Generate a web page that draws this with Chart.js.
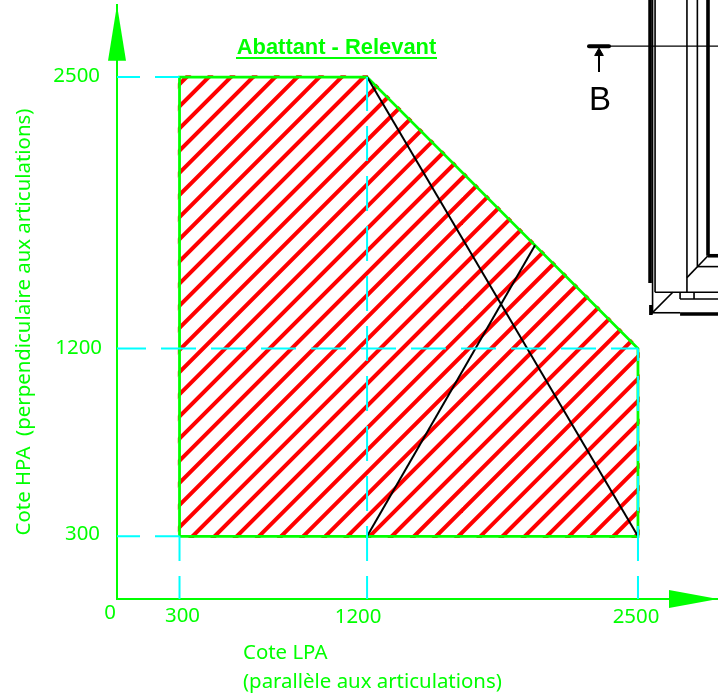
<!DOCTYPE html>
<html>
<head>
<meta charset="utf-8">
<title>Abattant - Relevant</title>
<script src="https://cdn.jsdelivr.net/npm/chart.js@4"></script>
<style>
  html, body { margin: 0; padding: 0; background: #fff; overflow: hidden; }
  canvas { display: block; }
</style>
</head>
<body>
<canvas id="chart" width="718" height="696"></canvas>
<script>
const chartTitle = "Abattant - Relevant";
const xAxisTitle = ["Cote LPA", "(parallèle aux articulations)"];
const yAxisTitle = "Cote HPA  (perpendiculaire aux articulations)";
const xTicks = [0, 300, 1200, 2500];
const yTicks = [300, 1200, 2500];

// zone limits, LPA / HPA
const zoneTopLpa = [300, 1200, 2500];
const zoneTopHpa = [2500, 2500, 1200];
const zoneBottomLpa = [300, 2500];
const zoneBottomHpa = [300, 300];

// black lines inside the zone
const diagonalDown = [[1200, 2500], [2500, 300]];
const diagonalUp = [[1200, 300], [2006, 1694]];

// section mark and window corner, cut off by the page, in the same units
const sectionLine = [[2361, 2648], [2884, 2648]];
const sectionBar = [[2265, 2648], [2361, 2648]];
const sectionStem = [[2313, 2524], [2313, 2620]];
const sectionHead = [[2313, 2615]];
const thinWindowLines = [
  [[2570, 2869], [2570, 1375]],
  [[2582, 2869], [2582, 1469]],
  [[2735, 2869], [2735, 1469]],
  [[2785, 2869], [2785, 1592]],
  [[2582, 1469], [2884, 1469]],
  [[2785, 1592], [2884, 1592]],
  [[2735, 1539], [2836, 1644]],
  [[2702, 1469], [2702, 1437]],
  [[2769, 1469], [2769, 1437]],
  [[2702, 1437], [2884, 1437]],
  [[2558, 1371], [2702, 1371]],
  [[2566, 1368], [2667, 1469]],
];
const thickWindowLines = [
  [[2558, 2869], [2558, 1513]],
  [[2836, 2869], [2836, 1644]],
  [[2836, 1644], [2884, 1644]],
  [[2702, 1365], [2884, 1365]],
  [[2562, 1408], [2562, 1360]],
];

const GREEN = "#00ff00";
const CYAN = "#00ffff";
const font = '"Liberation Sans", Arial, sans-serif';
const labelFont = '"Noto Sans", sans-serif';

function toPoints(xs, ys) {
  return xs.map((x, i) => ({ x: x, y: ys[i] }));
}

function pairs(list) {
  return list.map((p) => ({ x: p[0], y: p[1] }));
}

function line(data, color, width, extra) {
  return Object.assign(
    {
      data: data,
      showLine: true,
      borderColor: color,
      borderWidth: width,
      pointRadius: 0,
      fill: false,
      clip: false,
    },
    extra
  );
}

// 45 degree hatch used by the zone, 20 strokes per tile so it repeats cleanly
function makeHatch() {
  const size = 443;
  const step = size / 20;
  const tile = document.createElement("canvas");
  tile.width = size;
  tile.height = size;
  const c = tile.getContext("2d");
  c.strokeStyle = "#ff0000";
  c.lineWidth = 4;
  for (let k = 0; k <= 40; k++) {
    c.beginPath();
    c.moveTo(k * step + 10, -10);
    c.lineTo(k * step - size - 10, size + 10);
    c.stroke();
  }
  const pattern = document.createElement("canvas").getContext("2d").createPattern(tile, "repeat");
  pattern.setTransform(new DOMMatrix().translate(20, 0));
  return pattern;
}

const hatch = makeHatch();

const zoneOutline = toPoints(zoneBottomLpa.slice(0, 1).concat(zoneTopLpa, zoneBottomLpa.slice(1), zoneBottomLpa.slice(0, 1)),
  zoneBottomHpa.slice(0, 1).concat(zoneTopHpa, zoneBottomHpa.slice(1), zoneBottomHpa.slice(0, 1)));

const datasets = [
  // dashed reference lines, measured from the axes
  line(pairs([[0, yTicks[2]], [xTicks[1], yTicks[2]]]), CYAN, 2, { borderDash: [35, 15], borderDashOffset: 12 }),
  line(pairs([[0, yTicks[1]], [xTicks[3], yTicks[1]]]), CYAN, 2, { borderDash: [35, 15], borderDashOffset: 6 }),
  line(pairs([[0, yTicks[0]], [xTicks[1], yTicks[0]]]), CYAN, 2, { borderDash: [35, 15], borderDashOffset: 12 }),
  line(pairs([[xTicks[1], 0], [xTicks[1], yTicks[0]]]), CYAN, 2, { borderDash: [35, 15], borderDashOffset: 12 }),
  line(pairs([[xTicks[2], 0], [xTicks[2], yTicks[2]]]), CYAN, 2, { borderDash: [35, 15], borderDashOffset: 12 }),
  line(pairs([[xTicks[3], 0], [xTicks[3], yTicks[1]]]), CYAN, 2, { borderDash: [35, 15], borderDashOffset: 12 }),

  line(pairs(diagonalDown), "#000", 2),
  line(pairs(diagonalUp), "#000", 2),

  line(pairs(sectionLine), "#000", 1.2),
  line(pairs(sectionBar), "#000", 4, { borderCapStyle: "round" }),
  line(pairs(sectionStem), "#000", 2),
  {
    data: pairs(sectionHead),
    pointStyle: "triangle",
    pointRadius: 5,
    backgroundColor: "#000",
    borderColor: "#000",
    showLine: false,
    clip: false,
  },
  ...thinWindowLines.map((l) => line(pairs(l), "#000", 1.6)),
  ...thickWindowLines.map((l) => line(pairs(l), "#000", 3.6)),

  line(zoneOutline, GREEN, 2.8),
  // hatch ends poke out of the green outline
  line(zoneOutline, hatch, 3.4),
  {
    data: toPoints(zoneTopLpa, zoneTopHpa),
    showLine: true,
    borderWidth: 0,
    pointRadius: 0,
    backgroundColor: hatch,
    fill: "+1",
  },
  {
    data: toPoints(zoneBottomLpa, zoneBottomHpa),
    showLine: true,
    borderWidth: 0,
    pointRadius: 0,
    fill: false,
  },
];

const labelsPlugin = {
  id: "drawingText",
  afterDraw(chart) {
    const ctx = chart.ctx;
    const sx = chart.scales.x;
    const sy = chart.scales.y;
    ctx.save();
    ctx.fillStyle = GREEN;
    ctx.textBaseline = "middle";

    // arrow heads on the axes
    ctx.beginPath();
    ctx.moveTo(sx.left, chart.chartArea.top);
    ctx.lineTo(sx.left + 9, sy.getPixelForValue(2578));
    ctx.lineTo(sx.left - 9, sy.getPixelForValue(2578));
    ctx.closePath();
    ctx.fill();
    ctx.beginPath();
    ctx.moveTo(sx.right, sy.bottom);
    ctx.lineTo(sx.getPixelForValue(2649), sy.bottom - 9);
    ctx.lineTo(sx.getPixelForValue(2649), sy.bottom + 9);
    ctx.closePath();
    ctx.fill();

    // ticks
    ctx.font = "20.4px " + labelFont;
    ctx.textAlign = "center";
    const xNudge = [-7, 3, -9, -2];
    const xDrop = [14, 17, 18, 18];
    xTicks.forEach((t, i) => {
      ctx.fillText(String(t), sx.getPixelForValue(t) + xNudge[i], sy.bottom + xDrop[i]);
    });
    ctx.textAlign = "right";
    const yRight = [100, 102, 100];
    const yLift = [2, 0, 1];
    yTicks.forEach((t, i) => {
      ctx.fillText(String(t), yRight[i], sy.getPixelForValue(t) - yLift[i]);
    });

    // axis titles
    ctx.textAlign = "left";
    ctx.fillText(xAxisTitle[0], 243, 653);
    ctx.fillText(xAxisTitle[1], 243, 682);
    ctx.save();
    ctx.translate(24, 322);
    ctx.rotate(-Math.PI / 2);
    ctx.textAlign = "center";
    ctx.fillText(yAxisTitle, 0, 0);
    ctx.restore();

    // title
    ctx.font = "bold 21.9px " + font;
    ctx.textAlign = "center";
    ctx.fillText(chartTitle, 336.5, 48);
    ctx.fillRect(236, 57, 201, 2);

    ctx.fillStyle = "#000";
    ctx.font = "33px " + font;
    ctx.fillText("B", 600, 101);
    ctx.restore();
  },
};

new Chart(document.getElementById("chart"), {
  type: "scatter",
  data: { datasets: datasets },
  plugins: [labelsPlugin],
  options: {
    responsive: false,
    animation: false,
    events: [],
    layout: { autoPadding: false, padding: { left: 117, top: 5, right: 0, bottom: 97 } },
    plugins: { legend: { display: false }, tooltip: { enabled: false }, title: { display: false } },
    scales: {
      x: {
        type: "linear",
        min: 0,
        max: 2884,
        afterBuildTicks: (scale) => { scale.ticks = xTicks.map((v) => ({ value: v })); },
        ticks: { display: false },
        grid: { display: false, drawTicks: false },
        border: { color: GREEN, width: 2 },
      },
      y: {
        type: "linear",
        min: 0,
        max: 2845,
        afterBuildTicks: (scale) => { scale.ticks = yTicks.map((v) => ({ value: v })); },
        ticks: { display: false },
        grid: { display: false, drawTicks: false },
        border: { color: GREEN, width: 2 },
      },
    },
  },
});
</script>
</body>
</html>
